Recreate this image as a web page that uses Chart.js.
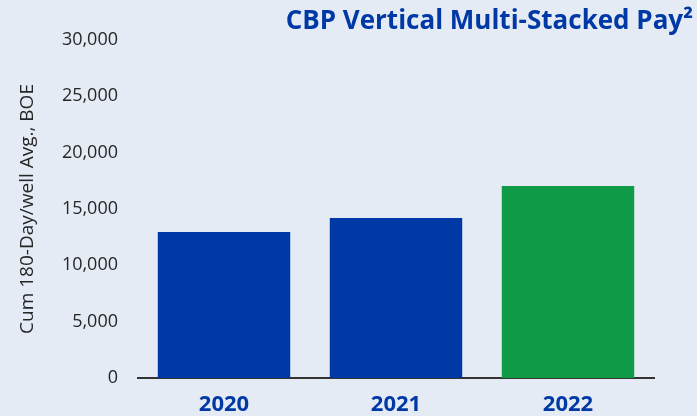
<!DOCTYPE html>
<html>
<head>
<meta charset="utf-8">
<script src="https://cdn.jsdelivr.net/npm/chart.js@4.4.1/dist/chart.umd.min.js"></script>
<style>
  html, body { margin: 0; padding: 0; background: #E4EBF5; }
  #wrap { width: 697px; height: 416px; position: relative; }
</style>
</head>
<body>
<div id="wrap"><canvas id="myChart"></canvas></div>
<script>
const years = ['2020', '2021', '2022'];
const cumBoe = [12950, 14200, 17050];
const barColors = ['#0039A6', '#0039A6', '#0F9A48'];
const yTicks = [0, 5000, 10000, 15000, 20000, 25000, 30000];
const chartTitle = 'CBP Vertical Multi-Stacked Pay\u00B2';
const yTitle = 'Cum 180-Day/well Avg., BOE';

const BG = '#E4EBF5';
const FONT = "'Open Sans', sans-serif";

// paint the slide background and the title in the top right
const slideBits = {
  id: 'slideBits',
  beforeDraw(chart) {
    const c = chart.ctx;
    c.save();
    c.fillStyle = BG;
    c.fillRect(0, 0, chart.width, chart.height);
    c.restore();
  },
  afterDraw(chart) {
    const c = chart.ctx;
    c.save();
    c.font = "bold 26px " + FONT;
    c.fillStyle = '#0039A6';
    c.textAlign = 'right';
    c.textBaseline = 'alphabetic';
    c.fillText(chartTitle, chart.width - 4, 29);
    c.restore();
  }
};

const ctx = document.getElementById('myChart').getContext('2d');

window.boeChart = new Chart(ctx, {
  type: 'bar',
  data: {
    labels: years,
    datasets: [{
      data: cumBoe,
      backgroundColor: barColors,
      borderWidth: 0,
      barPercentage: 0.77,
      categoryPercentage: 1
    }]
  },
  options: {
    responsive: true,
    maintainAspectRatio: false,
    animation: false,
    layout: { padding: { top: 40, right: 43, bottom: 0, left: 0 } },
    plugins: {
      legend: { display: false },
      tooltip: { enabled: false }
    },
    scales: {
      x: {
        afterFit(scale) { scale.height = 38; },
        grid: { display: false, drawTicks: false },
        border: { display: true, color: '#333333', width: 2 },
        ticks: {
          color: '#0039A6',
          font: { family: FONT, size: 22, weight: 'bold' },
          padding: 14
        }
      },
      y: {
        min: 0,
        max: 30000,
        afterBuildTicks(scale) {
          scale.ticks = yTicks.map(v => ({ value: v }));
        },
        afterFit(scale) { scale.width = 138; },
        grid: { display: false, drawTicks: false },
        border: { display: false },
        ticks: {
          color: '#262626',
          font: { family: FONT, size: 18 },
          padding: 20,
          callback: v => v.toLocaleString('en-US')
        },
        title: {
          display: true,
          text: yTitle,
          color: '#262626',
          font: { family: FONT, size: 19 },
          padding: { top: 16, bottom: 0 }
        }
      }
    }
  },
  plugins: [slideBits]
});
</script>
</body>
</html>
